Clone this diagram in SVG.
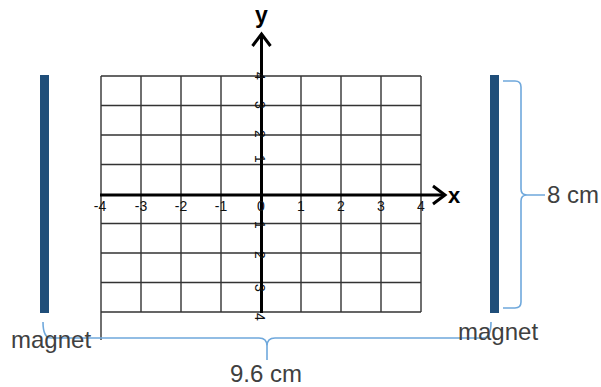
<svg xmlns="http://www.w3.org/2000/svg" width="601" height="387" viewBox="0 0 601 387">
<style>
.grid{stroke:#333;stroke-width:1.4;fill:none}
.axis{stroke:#000;stroke-width:3;fill:none}
.head{stroke:#000;stroke-width:3;fill:none;stroke-linecap:butt;stroke-linejoin:miter}
.magnet{fill:#1f4e79}
.brace{stroke:#6fa8dc;stroke-width:1.6;fill:none}
.lbl{font-family:"Liberation Sans",Arial,sans-serif;font-size:24px;fill:#404040}
.ax{font-family:"Liberation Sans",Arial,sans-serif;font-weight:bold;fill:#000}
.tick{font-family:"Liberation Sans",Arial,sans-serif;font-size:14px;fill:#111;text-anchor:middle}
</style>
<rect width="601" height="387" fill="#fff"/>
<g id="grid">
<path class="grid" d="M101,76V312M141,76V312M181,76V312M221,76V312M301,76V312M341,76V312M381,76V312M421,76V312M101,76H421M101,105.5H421M101,135H421M101,164.5H421M101,223.5H421M101,253H421M101,282.5H421M101,312H421"/>
<line x1="101" y1="312" x2="101" y2="340" stroke="#333" stroke-width="1.4"/>
</g>
<g id="axes">
<line class="axis" x1="100" y1="195" x2="445" y2="195"/>
<line class="axis" x1="261.5" y1="34" x2="261.5" y2="313"/>
<polyline class="head" points="433,186 445,195 433,204"/>
<polyline class="head" points="252.5,46 261.5,34 270.5,46"/>
<text class="ax" x="448" y="203" font-size="22">x</text>
<text class="ax" x="261.5" y="23" font-size="23" text-anchor="middle">y</text>
</g>
<g id="x-ticks">
<text class="tick" x="100" y="211">-4</text>
<text class="tick" x="141" y="211">-3</text>
<text class="tick" x="181" y="211">-2</text>
<text class="tick" x="221" y="211">-1</text>
<text class="tick" x="261" y="211">0</text>
<text class="tick" x="301" y="211">1</text>
<text class="tick" x="341" y="211">2</text>
<text class="tick" x="381" y="211">3</text>
<text class="tick" x="421" y="211">4</text>
</g>
<g id="y-ticks">
<text class="tick" transform="translate(255,76) rotate(90)">4</text>
<text class="tick" transform="translate(255,105) rotate(90)">3</text>
<text class="tick" transform="translate(255,134) rotate(90)">2</text>
<text class="tick" transform="translate(255,159) rotate(90)">1</text>
<text class="tick" transform="translate(255,225) rotate(90)">1</text>
<text class="tick" transform="translate(255,255) rotate(90)">2</text>
<text class="tick" transform="translate(255,288) rotate(90)">3</text>
<text class="tick" transform="translate(255,317) rotate(90)">4</text>
</g>
<g id="magnet-left">
<rect class="magnet" x="40" y="75" width="9" height="238"/>
</g>
<g id="magnet-right">
<rect class="magnet" x="490" y="75" width="9" height="238"/>
</g>
<g id="connectors">
<path class="brace" d="M503,81H515Q521,81 521,87V189Q521,195 527,195H545M527,195Q521,195 521,201V302Q521,308 515,308H503"/>
<path class="brace" d="M43,322Q43,338 51,338H259Q267,338 267,346V360M267,346Q267,338 275,338H483Q491,338 491,322"/>
</g>
<g id="labels">
<text class="lbl" x="11" y="348">magnet</text>
<text class="lbl" x="458" y="340">magnet</text>
<text class="lbl" x="547" y="203">8 cm</text>
<text class="lbl" x="266" y="382" text-anchor="middle">9.6 cm</text>
</g>
</svg>
